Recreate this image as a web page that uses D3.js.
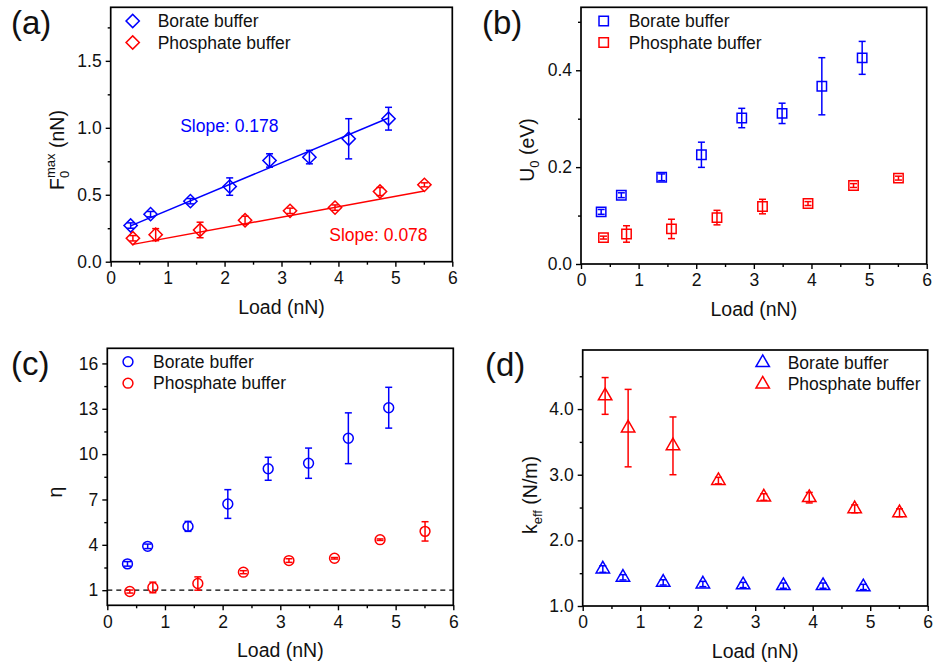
<!DOCTYPE html>
<html>
<head>
<meta charset="utf-8">
<script src="https://cdn.jsdelivr.net/npm/d3@7"></script>
<style>
  body { margin: 0; background: #fff; }
  svg { display: block; font-family: Arial, "Liberation Sans", sans-serif; }
</style>
</head>
<body>
<svg width="933" height="671"></svg>
<script>
  // loads (nN) at which both buffers were measured
  const loadBorate = [0.35, 0.70, 1.40, 2.09, 2.79, 3.49, 4.18, 4.88];
  const loadPhosphate = [0.39, 0.79, 1.57, 2.36, 3.15, 3.94, 4.73, 5.51];

  // (a) F0max (nN)
  const fmaxBorate = [0.27, 0.355, 0.452, 0.561, 0.756, 0.781, 0.918, 1.068];
  const fmaxBorateErr = [0.02, 0.02, 0.02, 0.065, 0.05, 0.05, 0.15, 0.085];
  const fmaxPhosphate = [0.175, 0.202, 0.237, 0.31, 0.38, 0.404, 0.524, 0.574];
  const fmaxPhosphateErr = [0.02, 0.045, 0.058, 0.03, 0.02, 0.02, 0.03, 0.015];
  const fitBorate = [0.205, 0.178];     // intercept, slope
  const fitPhosphate = [0.099, 0.078];

  // (b) U0 (eV)
  const u0Borate = [0.1076, 0.142, 0.179, 0.2255, 0.3014, 0.311, 0.367, 0.4256];
  const u0BorateErr = [0.005, 0.005, 0.007, 0.026, 0.02, 0.021, 0.059, 0.034];
  const u0Phosphate = [0.0545, 0.062, 0.0724, 0.0958, 0.1186, 0.1248, 0.162, 0.1773];
  const u0PhosphateErr = [0.003, 0.017, 0.02, 0.015, 0.015, 0.004, 0.004, 0.004];

  // (c) eta
  const etaBorate = [2.74, 3.9, 5.22, 6.7, 9.03, 9.4, 11.05, 13.07];
  const etaBorateErr = [0.15, 0.15, 0.33, 0.95, 0.76, 1.0, 1.68, 1.35];
  const etaPhosphate = [0.91, 1.18, 1.44, 2.19, 2.96, 3.11, 4.34, 4.89];
  const etaPhosphateErr = [0.1, 0.35, 0.44, 0.1, 0.12, 0.05, 0.05, 0.64];

  // (d) keff (N/m)
  const keffBorate = [1.563, 1.437, 1.36, 1.335, 1.32, 1.31, 1.31, 1.29];
  const keffBorateErr = [0.05, 0.04, 0.04, 0.04, 0.04, 0.04, 0.04, 0.04];
  const keffPhosphate = [4.2, 3.71, 3.44, 2.91, 2.66, 2.65, 2.48, 2.42];
  const keffPhosphateErr = [0.28, 0.59, 0.44, 0.05, 0.05, 0.08, 0.06, 0.06];

  const xTicks = [0, 1, 2, 3, 4, 5, 6];
  const xMinor = [0.5, 1.5, 2.5, 3.5, 4.5, 5.5];
  const seriesNames = ['Borate buffer', 'Phosphate buffer'];

  const BLUE = '#0000ff', RED = '#ff0000';
  const svg = d3.select('svg');

  const shapes = {
    diamond: d3.symbol().type(d3.symbolSquare).size(88),
    square: d3.symbol().type(d3.symbolSquare).size(88),
    circle: d3.symbol().type(d3.symbolCircle).size(76),
    triangle: d3.symbol().type(d3.symbolTriangle).size(78)
  };

  function marker(sel, shape, color) {
    sel.attr('d', shapes[shape]())
      .attr('fill', 'none')
      .attr('stroke', color)
      .attr('stroke-width', 1.5);
  }

  function drawPanel(cfg) {
    const g = svg.append('g');
    const x = d3.scaleLinear().domain([0, 6]).range([cfg.left, cfg.right]);
    const y = d3.scaleLinear().domain(cfg.yDomain).range([cfg.bottom, cfg.top]);

    // minor ticks first
    g.append('g').attr('class', 'minor')
      .attr('transform', `translate(0,${cfg.bottom})`)
      .call(d3.axisBottom(x).tickValues(xMinor).tickSize(3).tickFormat('').tickSizeOuter(0));
    g.append('g').attr('class', 'minor')
      .attr('transform', `translate(${cfg.left},0)`)
      .call(d3.axisLeft(y).tickValues(cfg.yMinor).tickSize(3).tickFormat('').tickSizeOuter(0));

    g.append('g')
      .attr('transform', `translate(0,${cfg.bottom})`)
      .call(d3.axisBottom(x).tickValues(xTicks).tickFormat(d3.format('d'))
        .tickSize(5).tickPadding(5).tickSizeOuter(0));
    g.append('g')
      .attr('transform', `translate(${cfg.left},0)`)
      .call(d3.axisLeft(y).tickValues(cfg.yTicks).tickFormat(cfg.yFormat)
        .tickSize(5).tickPadding(4).tickSizeOuter(0));

    g.selectAll('.domain').remove();
    g.selectAll('.tick line').attr('stroke', '#000').attr('stroke-width', 1.4);
    g.selectAll('.tick text').attr('font-size', 17.5).attr('fill', '#111');

    // frame
    g.append('rect')
      .attr('x', cfg.left).attr('y', cfg.top)
      .attr('width', cfg.right - cfg.left).attr('height', cfg.bottom - cfg.top)
      .attr('fill', 'none').attr('stroke', '#000').attr('stroke-width', 1.7);

    if (cfg.extra) cfg.extra(g, x, y);

    cfg.series.forEach(s => {
      const pts = s.xs.map((v, i) => ({x: v, y: s.ys[i], e: s.errs[i]}));
      const eb = g.append('g').attr('stroke', s.color).attr('stroke-width', 1.5).attr('fill', 'none');
      pts.forEach(p => {
        const cx = x(p.x), y1 = y(p.y + p.e), y2 = y(p.y - p.e);
        eb.append('line').attr('x1', cx).attr('x2', cx).attr('y1', y1).attr('y2', y2);
        eb.append('line').attr('x1', cx - 3.5).attr('x2', cx + 3.5).attr('y1', y1).attr('y2', y1);
        eb.append('line').attr('x1', cx - 3.5).attr('x2', cx + 3.5).attr('y1', y2).attr('y2', y2);
      });
      g.selectAll(null).data(pts).enter().append('path')
        .call(marker, cfg.shape, s.color)
        .attr('transform', d => `translate(${x(d.x)},${y(d.y)})` + (cfg.shape === 'diamond' ? ' rotate(45)' : ''));
    });

    // legend
    cfg.series.forEach((s, i) => {
      const ly = cfg.legend[1] + i * 21.5;
      g.append('path').call(marker, cfg.shape, s.color)
        .attr('transform', `translate(${cfg.legend[0]},${ly})` + (cfg.shape === 'diamond' ? ' rotate(45)' : ''));
      g.append('text').attr('x', cfg.legend[0] + 25).attr('y', ly + 6)
        .attr('font-size', 17.5).attr('fill', '#111').text(seriesNames[i]);
    });

    // panel letter
    g.append('text').attr('x', cfg.label[0]).attr('y', cfg.label[1])
      .attr('font-size', 33).attr('fill', '#111').text(cfg.name);

    // x title
    g.append('text').attr('x', (cfg.left + cfg.right) / 2).attr('y', cfg.bottom + 52)
      .attr('text-anchor', 'middle').attr('font-size', 19.5).attr('fill', '#111').text('Load (nN)');

    // y title
    const yt = g.append('text')
      .attr('transform', `translate(${cfg.yTitle[0]},${cfg.yTitle[1]}) rotate(-90)`)
      .attr('text-anchor', 'middle').attr('font-size', 19.5).attr('fill', '#111');
    cfg.yTitleParts(yt);
  }

  drawPanel({
    name: '(a)', left: 110.7, right: 452.3, top: 7.3, bottom: 261.7,
    yDomain: [0, 1.9], yTicks: [0, 0.5, 1.0, 1.5], yMinor: [0.25, 0.75, 1.25, 1.75],
    yFormat: d3.format('.1f'), shape: 'diamond',
    legend: [132.7, 21], label: [11, 34], yTitle: [64, 150],
    series: [
      {xs: loadBorate, ys: fmaxBorate, errs: fmaxBorateErr, color: BLUE},
      {xs: loadPhosphate, ys: fmaxPhosphate, errs: fmaxPhosphateErr, color: RED}
    ],
    yTitleParts: t => {
      t.append('tspan').text('F');
      t.append('tspan').attr('font-size', 13).attr('dy', 5).text('0');
      t.append('tspan').attr('font-size', 13).attr('dx', -7.2).attr('dy', -14).text('max');
      t.append('tspan').attr('dy', 9).text(' (nN)');
    },
    extra: (g, x, y) => {
      const fitLine = fit => d3.line().x(d => x(d)).y(d => y(fit[0] + fit[1] * d));
      g.append('path').attr('d', fitLine(fitBorate)(d3.extent(loadBorate)))
        .attr('stroke', BLUE).attr('stroke-width', 1.5).attr('fill', 'none');
      g.append('path').attr('d', fitLine(fitPhosphate)(d3.extent(loadPhosphate)))
        .attr('stroke', RED).attr('stroke-width', 1.5).attr('fill', 'none');
      g.append('text').attr('x', x(1.22)).attr('y', y(0.966)).attr('font-size', 17.5)
        .attr('fill', BLUE).text('Slope: ' + fitBorate[1].toFixed(3));
      g.append('text').attr('x', x(3.84)).attr('y', y(0.157)).attr('font-size', 17.5)
        .attr('fill', RED).text('Slope: ' + fitPhosphate[1].toFixed(3));
    }
  });

  drawPanel({
    name: '(b)', left: 581, right: 926.7, top: 7.3, bottom: 264,
    yDomain: [0, 0.53], yTicks: [0, 0.2, 0.4], yMinor: [0.1, 0.3, 0.5],
    yFormat: d3.format('.1f'), shape: 'square',
    legend: [603.7, 21], label: [482, 34], yTitle: [534, 150],
    series: [
      {xs: loadBorate, ys: u0Borate, errs: u0BorateErr, color: BLUE},
      {xs: loadPhosphate, ys: u0Phosphate, errs: u0PhosphateErr, color: RED}
    ],
    yTitleParts: t => {
      t.append('tspan').text('U');
      t.append('tspan').attr('font-size', 13).attr('dy', 5).text('0');
      t.append('tspan').attr('dy', -5).text(' (eV)');
    }
  });

  drawPanel({
    name: '(c)', left: 107.3, right: 453.3, top: 348.3, bottom: 605.3,
    yDomain: [0, 17], yTicks: [1, 4, 7, 10, 13, 16], yMinor: [2.5, 5.5, 8.5, 11.5, 14.5],
    yFormat: d3.format('d'), shape: 'circle',
    legend: [128, 361.7], label: [11, 375], yTitle: [62, 492],
    series: [
      {xs: loadBorate, ys: etaBorate, errs: etaBorateErr, color: BLUE},
      {xs: loadPhosphate, ys: etaPhosphate, errs: etaPhosphateErr, color: RED}
    ],
    yTitleParts: t => { t.append('tspan').text('η'); },
    extra: (g, x, y) => {
      g.append('line').attr('x1', x(0)).attr('x2', x(6)).attr('y1', y(1)).attr('y2', y(1))
        .attr('stroke', '#000').attr('stroke-width', 1.3).attr('stroke-dasharray', '5,4');
    }
  });

  drawPanel({
    name: '(d)', left: 582.7, right: 927.7, top: 350, bottom: 606,
    yDomain: [1, 4.9], yTicks: [1, 2, 3, 4], yMinor: [1.5, 2.5, 3.5, 4.5],
    yFormat: d3.format('.1f'), shape: 'triangle',
    legend: [762.7, 362.7], label: [485, 376], yTitle: [537, 495],
    series: [
      {xs: loadBorate, ys: keffBorate, errs: keffBorateErr, color: BLUE},
      {xs: loadPhosphate, ys: keffPhosphate, errs: keffPhosphateErr, color: RED}
    ],
    yTitleParts: t => {
      t.append('tspan').text('k');
      t.append('tspan').attr('font-size', 13).attr('dy', 5).text('eff');
      t.append('tspan').attr('dy', -5).text(' (N/m)');
    }
  });
</script>
</body>
</html>
